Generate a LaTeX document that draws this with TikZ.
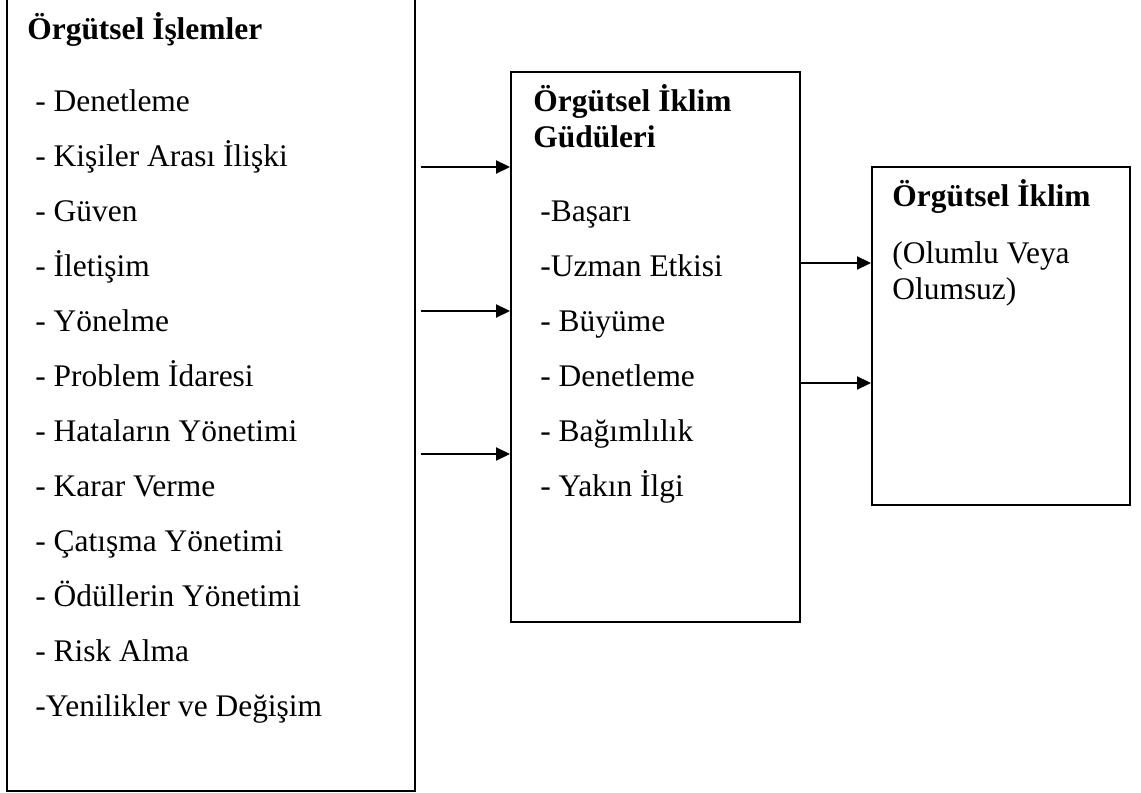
\documentclass[tikz,border=0pt]{standalone}
\usepackage{fontspec}
\setmainfont{Liberation Serif}
\usetikzlibrary{arrows.meta, fit}

\begin{document}
\begin{tikzpicture}[x=0.02cm, y=-0.02cm, font=\fontsize{17.9}{21}\selectfont]
  \tikzset{
    box/.style={draw, line width=1.1pt, inner sep=0pt},
    item/.style={anchor=base west, inner sep=0pt},
    head/.style={item, font=\fontsize{17.9}{21}\selectfont\bfseries},
    arr/.style={line width=1.1pt, -{Triangle[length=0.28cm, width=0.26cm]}}
  }
  \useasboundingbox (0,0) rectangle (1141,793);

  % the three boxes
  \node[box, fit={(7,-10) (415,791)}] (islem) {};
  \node[box, fit={(511,72) (800,622)}] (gudu) {};
  \node[box, fit={(872,167) (1130,505)}] (iklim) {};

  % left box
  \node[head] (islemT) at (27,39.3) {Örgütsel İşlemler};
  \foreach \t [count=\i from 0] in {
    - Denetleme,
    - Kişiler Arası İlişki,
    - Güven,
    - İletişim,
    - Yönelme,
    - Problem İdaresi,
    - Hataların Yönetimi,
    - Karar Verme,
    - Çatışma Yönetimi,
    - Ödüllerin Yönetimi,
    - Risk Alma,
    -Yenilikler ve Değişim
  }{
    \node[item] (islem\i) at (35,{111.7+55*\i}) {\t};
  }

  % middle box
  \node[head] (guduT) at (533,111.7) {Örgütsel İklim};
  \node[head] (guduT2) at (533,148) {Güdüleri};
  \foreach \t [count=\i from 0] in {
    -Başarı,
    -Uzman Etkisi,
    - Büyüme,
    - Denetleme,
    - Bağımlılık,
    - Yakın İlgi
  }{
    \node[item] (gudu\i) at (540,{221.7+55*\i}) {\t};
  }

  % right box
  \node[head] (iklimT) at (892,206.7) {Örgütsel İklim};
  \node[item] (iklimA) at (892,264) {(Olumlu Veya};
  \node[item] (iklimB) at (892,300) {Olumsuz)};

  % arrows
  \foreach \y in {167, 311, 454}
    \draw[arr, shorten <=0.1cm] (islem.east |- 0,\y) -- (gudu.west |- 0,\y);
  \foreach \y in {263, 383}
    \draw[arr] (gudu.east |- 0,\y) -- (iklim.west |- 0,\y);
\end{tikzpicture}
\end{document}
